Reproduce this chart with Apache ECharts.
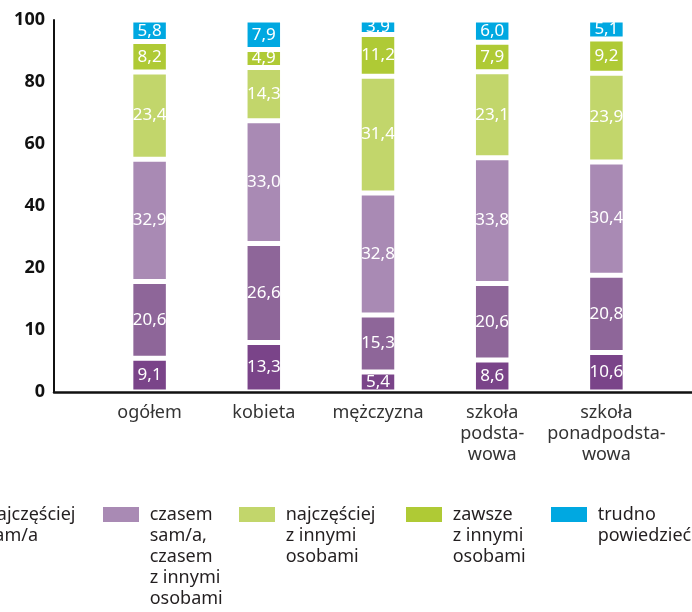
<!DOCTYPE html>
<html>
<head>
<meta charset="utf-8">
<script src="https://cdn.jsdelivr.net/npm/echarts@6/dist/echarts.min.js"></script>
<style>
html, body { margin: 0; padding: 0; background: #fff; }
#wykres { width: 692px; height: 612px; }
</style>
</head>
<body>
<div id="wykres"></div>
<script>
// dane
var kategorie = ['ogółem', 'kobieta', 'mężczyzna', 'szkoła\npodsta-\nwowa', 'szkoła\nponadpodsta-\nwowa'];
var nazwy = ['zawsze sam/a', 'najczęściej sam/a', 'czasem sam/a, czasem z innymi osobami',
	'najczęściej z innymi osobami', 'zawsze z innymi osobami', 'trudno powiedzieć'];
var opisyLegendy = ['zawsze\nsam/a', 'najczęściej\nsam/a', 'czasem\nsam/a,\nczasem\nz innymi\nosobami',
	'najczęściej\nz innymi\nosobami', 'zawsze\nz innymi\nosobami', 'trudno\npowiedzieć'];
var zawszeSam = [9.1, 13.3, 5.4, 8.6, 10.6];
var najczesciejSam = [20.6, 26.6, 15.3, 20.6, 20.8];
var czasemCzasem = [32.9, 33.0, 32.8, 33.8, 30.4];
var najczesciejZInnymi = [23.4, 14.3, 31.4, 23.1, 23.9];
var zawszeZInnymi = [8.2, 4.9, 11.2, 7.9, 9.2];
var trudnoPowiedziec = [5.8, 7.9, 3.9, 6.0, 5.1];
var etykietyY = ['0', '10', '20', '40', '60', '80', '100'];

var serie = [zawszeSam, najczesciejSam, czasemCzasem, najczesciejZInnymi, zawszeZInnymi, trudnoPowiedziec];
var kolory = ['#7a4489', '#8e6699', '#a98ab4', '#c2d66b', '#afca35', '#00a8e1'];
var legendaX = [-230, -63, 101, 237, 404, 549];   // położenie legendy (lewa krawędź kwadratu)
var czcionka = '"Noto Sans", sans-serif';
var krokY = 100 / 6;
var wysWiersza = 21;

var wykres = echarts.init(document.getElementById('wykres'));

var option = {
	animation: false,
	grid: [
		{ left: 92.5, right: 28.5, top: 20, bottom: 220 },   // słupki
		{ left: 54, right: 0, top: 20, bottom: 220 }          // osie
	],
	xAxis: [
		{
			type: 'category',
			gridIndex: 0,
			data: kategorie,
			axisLine: { show: false },
			axisTick: { show: false },
			axisLabel: {
				interval: 0,
				margin: 10,
				fontFamily: czcionka,
				fontSize: 18,
				lineHeight: wysWiersza,
				color: '#333'
			}
		},
		{
			type: 'value',
			gridIndex: 1,
			min: 0,
			max: 1,
			z: 5,
			axisLine: { show: true, lineStyle: { color: '#111', width: 2.5 } },
			axisTick: { show: false },
			axisLabel: { show: false },
			splitLine: { show: false }
		}
	],
	yAxis: [
		{ type: 'value', gridIndex: 0, min: 0, max: 100, show: false },
		{
			type: 'value',
			gridIndex: 1,
			min: 0,
			max: 100,
			interval: krokY,
			z: 5,
			axisLine: { show: true, lineStyle: { color: '#111', width: 2 } },
			axisTick: { show: false },
			splitLine: { show: false },
			axisLabel: {
				margin: 9,
				fontFamily: czcionka,
				fontSize: 18,
				fontWeight: 'bold',
				color: '#111',
				formatter: function (v) { return etykietyY[Math.round(v / krokY)]; }
			}
		}
	],
	legend: nazwy.map(function (nazwa, i) {
		var wiersze = opisyLegendy[i].split('\n');
		// puste wiersze na górze, żeby pierwszy wiersz stał na wysokości kwadratu
		var tekst = new Array(wiersze.length).join('\n') + wiersze.map(function (w) { return ' ' + w; }).join('\n');
		return {
			data: [nazwa],
			left: legendaX[i],
			top: 514.5 - wysWiersza * (wiersze.length - 0.5),
			padding: 0,
			icon: 'rect',
			itemWidth: 38,
			itemHeight: 17,
			selectedMode: false,
			formatter: function () { return tekst; },
			textStyle: {
				fontFamily: czcionka,
				fontSize: 18,
				lineHeight: wysWiersza,
				color: '#231f20'
			}
		};
	}),
	series: serie.map(function (wartosci, i) {
		return {
			name: nazwy[i],
			type: 'bar',
			xAxisIndex: 0,
			yAxisIndex: 0,
			stack: 'razem',
			barWidth: 37.5,
			itemStyle: { color: kolory[i], borderColor: '#fff', borderWidth: 2.5 },
			label: {
				show: true,
				position: 'inside',
				fontFamily: czcionka,
				fontSize: 17,
				color: '#fff',
				formatter: function (p) { return p.value.toFixed(1).replace('.', ','); }
			},
			data: wartosci
		};
	})
};
wykres.setOption(option);
</script>
</body>
</html>
